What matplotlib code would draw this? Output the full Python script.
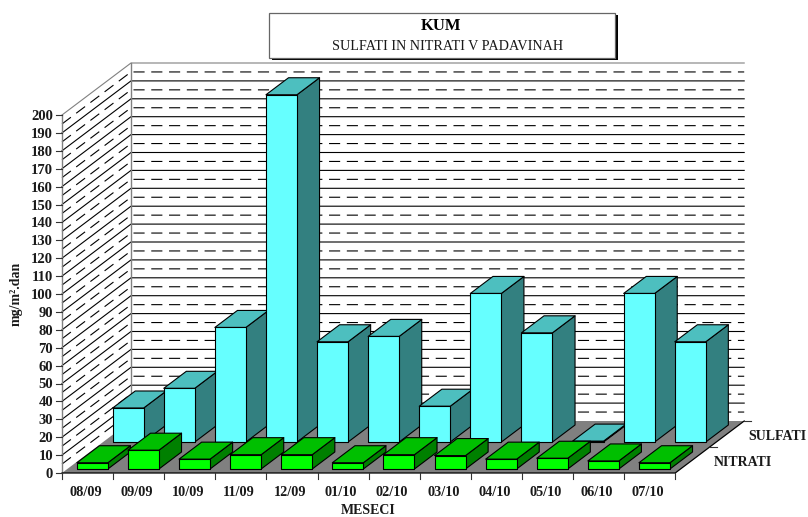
import matplotlib
matplotlib.use('Agg')
import matplotlib.pyplot as plt
from matplotlib.patches import Polygon, Rectangle

plt.rcParams['font.family'] = ['Liberation Serif', 'DejaVu Sans']

months = ['08/09', '09/09', '10/09', '11/09', '12/09', '01/10',
          '02/10', '03/10', '04/10', '05/10', '06/10', '07/10']
sulfati = [19, 30, 64, 194, 56, 59, 20, 83, 61, 0.5, 83, 56]
nitrati = [3.5, 10.5, 5.5, 8, 8, 3.5, 8, 7.5, 5.5, 6, 4.5, 3.5]
y_ticks = list(range(0, 201, 10))
row_labels = ['NITRATI', 'SULFATI']

W, H = 808, 517
X0, Y0 = 62, 473            # pixel of the front-left origin
PX_CAT, PX_VAL = 51.1, 1.79  # pixels per category / per value unit
DEPTH_X = 69 / PX_CAT       # depth vector in data units
DEPTH_Y = 52 / PX_VAL
BAR_W = 31 / PX_CAT

CYAN = ('#66FFFF', '#4DBFBF', '#338080')
GREEN = ('#00FF00', '#00BF00', '#008000')
WALL = '#808080'
TEXT = '#1a1a1a'


def pt(x, v, d):
    # x category position, v value, d depth 0..1 -> 2d data coordinates
    return (x + d * DEPTH_X, v + d * DEPTH_Y)


def draw_bar(ax, i, value, d0, d1, colors):
    x0 = i + (1 - BAR_W) / 2 - 0.5 / PX_CAT
    x1 = x0 + BAR_W
    front = [pt(x0, 0, d0), pt(x1, 0, d0), pt(x1, value, d0), pt(x0, value, d0)]
    top = [pt(x0, value, d0), pt(x1, value, d0), pt(x1, value, d1), pt(x0, value, d1)]
    side = [pt(x1, 0, d0), pt(x1, 0, d1), pt(x1, value, d1), pt(x1, value, d0)]
    for poly, col in zip((side, top, front), (colors[2], colors[1], colors[0])):
        ax.add_patch(Polygon(poly, closed=True, facecolor=col, edgecolor='black', lw=0.8,
                             joinstyle='round', zorder=5))


fig = plt.figure(figsize=(W / 100, H / 100), dpi=100)
ax = fig.add_axes([0, 0, 1, 1])
ax.set_xlim(-X0 / PX_CAT, (W - X0) / PX_CAT)
ax.set_ylim((Y0 - H) / PX_VAL, Y0 / PX_VAL)
ax.axis('off')

n = len(months)

# WALLS AND GRID
for v in range(5, 201, 5):
    style = dict(color='black', lw=0.8, zorder=1)
    if v % 10 != 0:
        style['dashes'] = (10, 6)
    if v == 200:
        style['color'] = WALL
    xs, ys = zip(pt(0, v, 0), pt(0, v, 1), pt(n, v, 1))
    ax.plot(xs, ys, **style)
xs, ys = zip(pt(0, 0, 0), pt(0, 200, 0))
ax.plot(xs, ys, color=WALL, lw=1, zorder=2)
xs, ys = zip(pt(0, 0, 1), pt(0, 200, 1))
ax.plot(xs, ys, color=WALL, lw=1, zorder=2)

# FLOOR
ax.add_patch(Polygon([pt(0, 0, 0), pt(0, 0, 1), pt(n, 0, 1), pt(n, 0, 0)], closed=True,
                     facecolor=WALL, edgecolor='none', zorder=3))
xs, ys = zip(pt(0, 0, 0), pt(n, 0, 0), pt(n, 0, 1))
ax.plot(xs, ys, color='black', lw=0.9, zorder=4)

# BARS, back row first
for i, value in enumerate(sulfati):
    draw_bar(ax, i, value, 0.596, 0.923, CYAN)
for i, value in enumerate(nitrati):
    draw_bar(ax, i, value, 0.077, 0.404, GREEN)

# AXES TICKS AND LABELS
for v in y_ticks:
    ax.plot([-6 / PX_CAT, 0], [v, v], color='#333333', lw=0.8, zorder=4)
    ax.text(-9 / PX_CAT, v - 1.5 / PX_VAL, str(v), ha='right', va='center', fontsize=10.5,
            fontweight='bold', color=TEXT)
for i in range(n + 1):
    ax.plot([i, i], [0, -6 / PX_VAL], color='#333333', lw=0.8, zorder=4)
for i, label in enumerate(months):
    ax.text(i + 0.5 - 2 / PX_CAT, -19.5 / PX_VAL, label, ha='center', va='center', fontsize=10.3,
            fontweight='bold', color=TEXT)
for k, label in enumerate(row_labels):
    d = 0.5 * (k + 1)
    x, y = pt(n, 0, d)
    ax.plot([x, x + 7 / PX_CAT], [y, y], color='#333333', lw=0.8, zorder=4)
    ax.text(x + 4.5 / PX_CAT, y - 16 / PX_VAL, label, ha='left', va='center', fontsize=10,
            fontweight='bold', color=TEXT)

ax.text(6.0, -37.5 / PX_VAL, 'MESECI', ha='center', va='center', fontsize=10, fontweight='bold', color=TEXT)
ax.text(-46 / PX_CAT, 100, 'mg/m².dan', rotation=90, ha='center', va='center', fontsize=10,
        fontweight='bold', color=TEXT)

# TITLE BOX
fig.add_artist(Rectangle((272 / W, 1 - 60 / H), 346 / W, 45 / H, transform=fig.transFigure,
                         facecolor='black', edgecolor='none'))
fig.add_artist(Rectangle((269 / W, 1 - 58 / H), 346 / W, 45 / H, transform=fig.transFigure,
                         facecolor='white', edgecolor='#666666', lw=0.9))
fig.text(441 / W, 1 - 25.5 / H, 'KUM', ha='center', va='center', fontsize=12, fontweight='bold')
fig.text(448 / W, 1 - 46.5 / H, 'SULFATI IN NITRATI V PADAVINAH', ha='center', va='center', fontsize=10.2,
         color=TEXT)

fig.savefig('out.png', dpi=100)
